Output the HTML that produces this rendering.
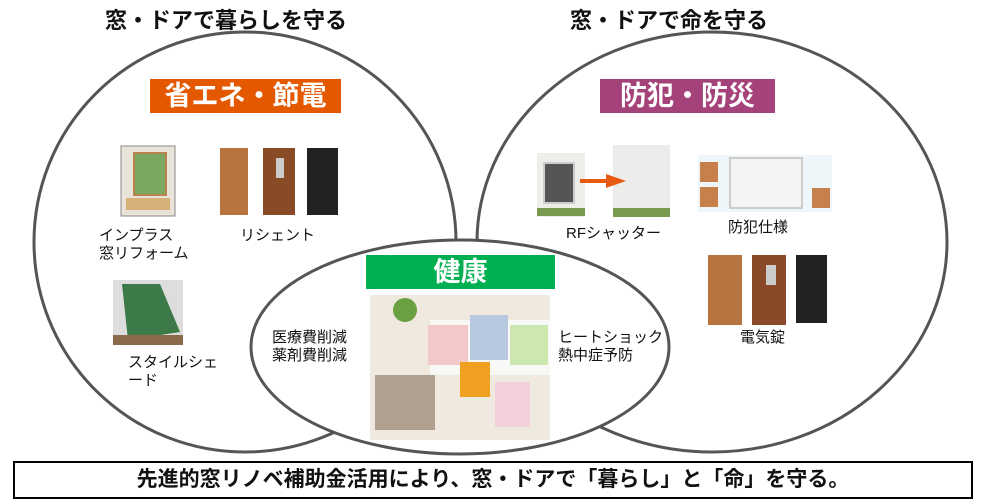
<!DOCTYPE html>
<html><head><meta charset="utf-8"><style>
body{margin:0;width:991px;height:503px;background:#fff;position:relative;overflow:hidden;font-family:"Liberation Sans","Noto Sans CJK JP",sans-serif;}
.a{position:absolute;}
.t{font-size:15px;color:#111;line-height:18px;}
.h{font-size:22px;font-weight:bold;color:#111;}
.lab{color:#fff;font-size:27px;font-weight:bold;text-align:center;}
</style></head><body>
<svg class="a" style="left:0;top:0" width="991" height="503">
<ellipse cx="245" cy="242" rx="211" ry="210" fill="none" stroke="#555" stroke-width="3"/>
<ellipse cx="712" cy="242" rx="235" ry="210" fill="none" stroke="#555" stroke-width="3"/>
<ellipse cx="460" cy="347" rx="209" ry="107" fill="#fff" stroke="#555" stroke-width="3"/>
<rect x="121" y="146" width="54" height="70" fill="#e8e4da" stroke="#888"/>
<rect x="134" y="153" width="32" height="42" fill="#7aa860" stroke="#b8834c" stroke-width="2"/>
<rect x="126" y="198" width="44" height="12" fill="#d8b07a"/>
<rect x="220" y="148" width="28" height="67" fill="#b8743e"/>
<rect x="263" y="148" width="32" height="67" fill="#8a4a28"/><rect x="276" y="158" width="8" height="20" fill="#ccc"/>
<rect x="307" y="148" width="31" height="67" fill="#222"/>
<rect x="113" y="280" width="70" height="65" fill="#ddd"/>
<polygon points="122,284 160,284 180,332 128,340" fill="#3c7a4a"/>
<rect x="113" y="335" width="70" height="10" fill="#8a6a4a"/>
<rect x="537" y="153" width="48" height="64" fill="#eeeee8"/>
<rect x="544" y="163" width="30" height="40" fill="#555" stroke="#ccc" stroke-width="2"/>
<rect x="537" y="208" width="48" height="8" fill="#7a9a50"/>
<rect x="613" y="145" width="57" height="72" fill="#ececea"/>
<rect x="613" y="208" width="57" height="9" fill="#7a9a50"/>
<line x1="580" y1="181" x2="610" y2="181" stroke="#e85a10" stroke-width="4"/>
<polygon points="606,174 626,181 606,188" fill="#e85a10"/>
<rect x="698" y="155" width="134" height="57" fill="#eef6fa"/>
<rect x="730" y="158" width="72" height="50" fill="#f4f4f4" stroke="#ccc" stroke-width="2"/>
<rect x="700" y="162" width="18" height="20" fill="#c8804a"/><rect x="700" y="187" width="18" height="20" fill="#c8804a"/><rect x="812" y="188" width="18" height="20" fill="#c8804a"/>
<rect x="708" y="255" width="34" height="70" fill="#b8743e"/>
<rect x="752" y="255" width="34" height="70" fill="#8a4a28"/><rect x="766" y="265" width="10" height="20" fill="#ccc"/>
<rect x="796" y="255" width="31" height="68" fill="#222"/>
<rect x="370" y="295" width="180" height="145" fill="#efe9e0"/>
<circle cx="405" cy="310" r="12" fill="#6aa040"/>
<rect x="430" y="320" width="120" height="55" fill="#f8f8f6"/>
<rect x="428" y="325" width="40" height="40" fill="#f2c8c8"/>
<rect x="470" y="315" width="38" height="45" fill="#b8c8e0"/>
<rect x="510" y="325" width="38" height="40" fill="#cce8b0"/>
<rect x="375" y="375" width="60" height="55" fill="#b0a090"/>
<rect x="460" y="362" width="30" height="35" fill="#f0a020"/>
<rect x="495" y="382" width="35" height="45" fill="#f4d0dc"/>
</svg>
<div class="a h" style="left:105px;top:3px;">窓・ドアで暮らしを守る</div>
<div class="a h" style="left:570px;top:3px;">窓・ドアで命を守る</div>
<div class="a lab" style="left:150px;top:79px;width:191px;height:34px;line-height:34px;background:#e45800;">省エネ・節電</div>
<div class="a lab" style="left:600px;top:79px;width:175px;height:34px;line-height:34px;background:#a5427a;">防犯・防災</div>
<div class="a lab" style="left:366px;top:255px;width:189px;height:34px;line-height:34px;background:#00b050;">健康</div>
<div class="a t" style="left:99px;top:227px;">インプラス<br>窓リフォーム</div>
<div class="a t" style="left:240px;top:227px;">リシェント</div>
<div class="a t" style="left:128px;top:354px;">スタイルシェ<br>ード</div>
<div class="a t" style="left:272px;top:329px;">医療費削減<br>薬剤費削減</div>
<div class="a t" style="left:558px;top:329px;">ヒートショック<br>熱中症予防</div>
<div class="a t" style="left:566px;top:225px;">RFシャッター</div>
<div class="a t" style="left:728px;top:219px;">防犯仕様</div>
<div class="a t" style="left:740px;top:329px;">電気錠</div>
<div class="a" style="left:13px;top:461px;width:956px;height:34px;border:2px solid #000;text-align:center;line-height:34px;font-size:21px;font-weight:bold;color:#111;">先進的窓リノベ補助金活用により、窓・ドアで「暮らし」と「命」を守る。</div>
</body></html>
